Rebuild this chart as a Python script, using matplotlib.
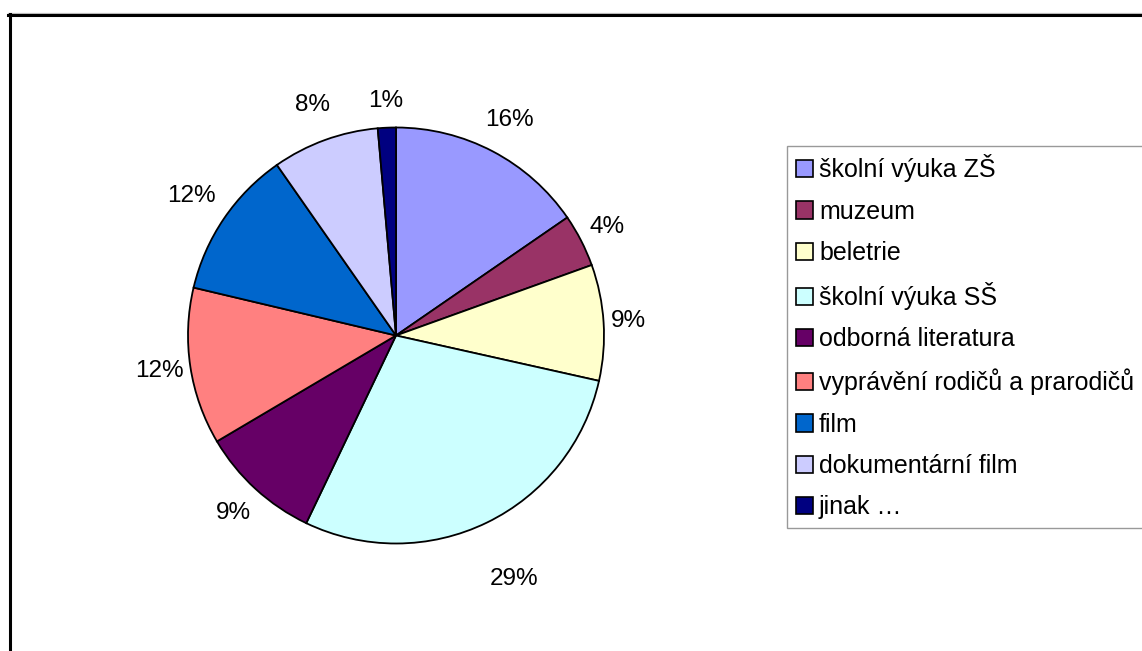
import matplotlib
matplotlib.use("Agg")
import matplotlib.pyplot as plt
from matplotlib.patches import Patch
from matplotlib.lines import Line2D
import numpy as np

plt.rcParams["font.family"] = ["Liberation Sans", "DejaVu Sans"]

categories = ["školní výuka ZŠ", "muzeum", "beletrie", "školní výuka SŠ",
              "odborná literatura", "vyprávění rodičů a prarodičů", "film",
              "dokumentární film", "jinak …"]
shares = [15.4, 4.1, 9.0, 28.6, 9.4, 12.2, 11.6, 8.3, 1.4]
pct_labels = ["16%", "4%", "9%", "29%", "9%", "12%", "12%", "8%", "1%"]
colors = ["#9999FF", "#993366", "#FFFFCC", "#CCFFFF", "#660066",
          "#FF8080", "#0066CC", "#CCCCFF", "#000080"]
# radial distance of each percentage label (pie radius = 1)
label_r = [1.17, 1.14, 1.12, 1.30, 1.16, 1.15, 1.19, 1.18, 1.13]

W, H = 1142, 651
fig = plt.figure(figsize=(W / 100, H / 100), dpi=100)
fig.patch.set_facecolor("white")

# outer chart frame (cut off on right and bottom)
fig.add_artist(Line2D([8 / W, 1], [1 - 12.5 / H] * 2, color="#c0c0c0", lw=0.9))
fig.add_artist(Line2D([8 / W, 1], [1 - 14.5 / H] * 2, color="black", lw=2.2))
fig.add_artist(Line2D([9.5 / W] * 2, [0, 1 - 13.5 / H], color="black", lw=2.2))

cx, cy, r = 396, 335.5, 208
ax = fig.add_axes([(cx - r) / W, (H - cy - r) / H, 2 * r / W, 2 * r / H])
wedges, _ = ax.pie(shares, colors=colors, startangle=90, counterclock=False,
                   radius=1, wedgeprops=dict(edgecolor="black", linewidth=1.3))
ax.set_xlim(-1, 1)
ax.set_ylim(-1, 1)
ax.axis("off")

for w, lab, d in zip(wedges, pct_labels, label_r):
    ang = np.deg2rad((w.theta1 + w.theta2) / 2)
    ax.text(d * np.cos(ang), d * np.sin(ang), lab, ha="center", va="center",
            fontsize=17.5, color="black")

handles = [Patch(facecolor=c, edgecolor="black", linewidth=1.2) for c in colors]
leg = fig.legend(handles, categories, loc="upper left",
                 bbox_to_anchor=(787 / W, 1 - 145.5 / H), borderaxespad=0,
                 fontsize=18, frameon=True, fancybox=False, shadow=False,
                 handlelength=0.68, handleheight=0.68, handletextpad=0.24,
                 labelspacing=0.69, borderpad=0.36)
leg.get_frame().set_edgecolor("#808080")
leg.get_frame().set_linewidth(1.0)

fig.savefig("out.png", dpi=100)
